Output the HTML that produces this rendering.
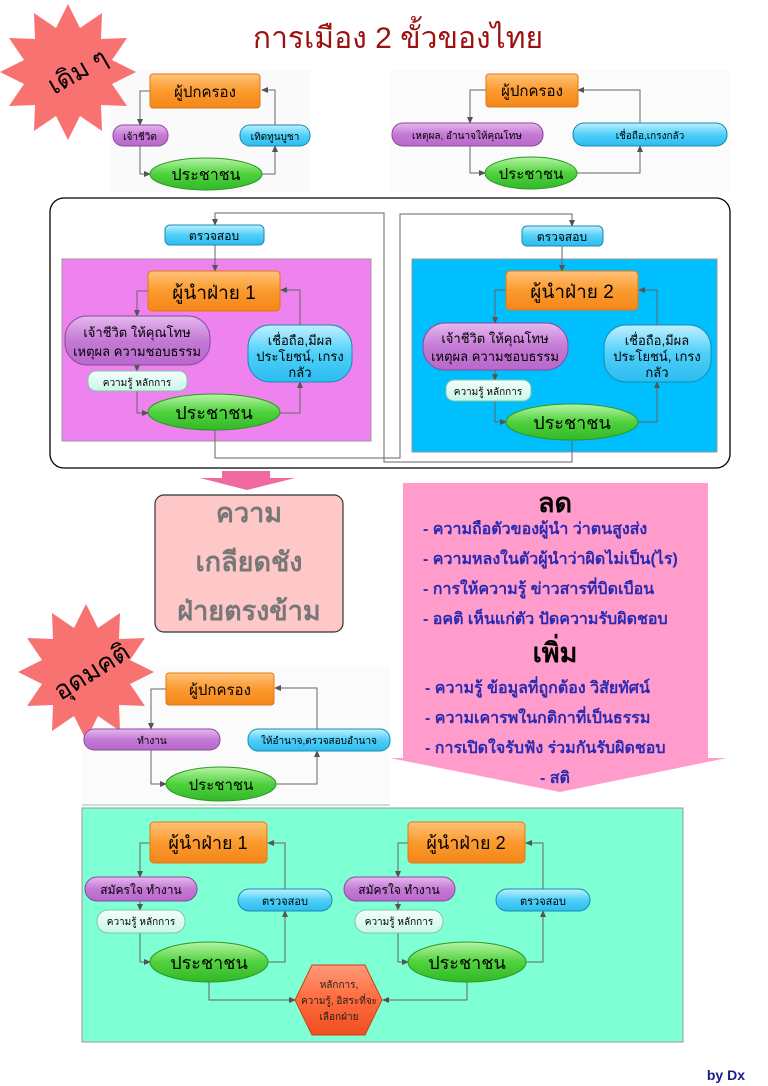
<!DOCTYPE html>
<html><head><meta charset="utf-8"><style>
html,body{margin:0;padding:0;background:#fff;}
svg{display:block}
text{font-family:"Liberation Sans","DejaVu Sans",sans-serif;}
</style></head><body>
<svg width="768" height="1086" viewBox="0 0 768 1086" xmlns="http://www.w3.org/2000/svg">
<defs>
<linearGradient id="or" x1="0" y1="0" x2="0" y2="1"><stop offset="0" stop-color="#ffc27a"/><stop offset="0.5" stop-color="#fb9a2e"/><stop offset="1" stop-color="#f4861a"/></linearGradient>
<linearGradient id="pu" x1="0" y1="0" x2="0" y2="1"><stop offset="0" stop-color="#e6b8ef"/><stop offset="0.5" stop-color="#c47ad4"/><stop offset="1" stop-color="#b868cc"/></linearGradient>
<linearGradient id="bl" x1="0" y1="0" x2="0" y2="1"><stop offset="0" stop-color="#bff0ff"/><stop offset="0.5" stop-color="#4fcff8"/><stop offset="1" stop-color="#2bbcf0"/></linearGradient>
<linearGradient id="gr" x1="0" y1="0" x2="0" y2="1"><stop offset="0" stop-color="#b8f4a8"/><stop offset="0.5" stop-color="#4fd23c"/><stop offset="1" stop-color="#33b82a"/></linearGradient>
<linearGradient id="mi" x1="0" y1="0" x2="0" y2="1"><stop offset="0" stop-color="#f4fffb"/><stop offset="1" stop-color="#c9f6e8"/></linearGradient>
<linearGradient id="rd" x1="0" y1="0" x2="0" y2="1"><stop offset="0" stop-color="#ff9a7a"/><stop offset="0.5" stop-color="#ff6a3c"/><stop offset="1" stop-color="#ef4e20"/></linearGradient>
<marker id="ar" markerWidth="8" markerHeight="8" refX="6" refY="4" orient="auto" markerUnits="userSpaceOnUse"><path d="M0,1 L7,4 L0,7 z" fill="#555"/></marker>
<polygon id="star" points="136,72 112,84 127,106 101,105 102,131 80,116 68,140 56,116 34,131 35,105 9,106 24,84 0,72 24,60 9,38 35,39 34,13 56,28 68,4 80,28 102,13 101,39 127,38 112,60"/>
</defs>

<text x="398" y="48" font-size="30" fill="#9b1010" text-anchor="middle">การเมือง 2 ขั้วของไทย</text>

<!-- top-left diagram -->
<rect x="110" y="70" width="200" height="122" fill="#fafafa"/>
<use href="#star" fill="#f87272"/>
<text x="78" y="80" font-size="26" fill="#000" text-anchor="middle" transform="rotate(-30 78 72)">เดิม ๆ</text>
<g fill="none" stroke="#666" stroke-width="1">
<polyline points="150,91 140,91 140,125" marker-end="url(#ar)"/>
<polyline points="140,146 140,174 150,174" marker-end="url(#ar)"/>
<polyline points="262,174 275,174 275,146" marker-end="url(#ar)"/>
<polyline points="275,125 275,90 262,90" marker-end="url(#ar)"/>
</g>
<rect x="150" y="74" width="110" height="34" rx="3" fill="url(#or)" stroke="#e07810"/>
<text x="205" y="97" font-size="15" text-anchor="middle">ผู้ปกครอง</text>
<rect x="113" y="125" width="55" height="21" rx="10" fill="url(#pu)" stroke="#8a4a9a"/>
<text x="140" y="140" font-size="10" text-anchor="middle">เจ้าชีวิต</text>
<rect x="240" y="125" width="70" height="21" rx="10" fill="url(#bl)" stroke="#1a8ab0"/>
<text x="275" y="140" font-size="10" text-anchor="middle">เทิดทูนบูชา</text>
<ellipse cx="206" cy="174" rx="56" ry="16" fill="url(#gr)" stroke="#2a9a20"/>
<text x="206" y="180" font-size="16" text-anchor="middle">ประชาชน</text>

<!-- top-right diagram -->
<rect x="390" y="70" width="340" height="122" fill="#fbfbfb"/>
<g fill="none" stroke="#666" stroke-width="1">
<polyline points="486,90 470,90 470,123" marker-end="url(#ar)"/>
<polyline points="470,146 470,173 485,173" marker-end="url(#ar)"/>
<polyline points="577,173 640,173 640,146" marker-end="url(#ar)"/>
<polyline points="640,123 640,90 578,90" marker-end="url(#ar)"/>
</g>
<rect x="486" y="74" width="92" height="33" rx="3" fill="url(#or)" stroke="#e07810"/>
<text x="532" y="96" font-size="15" text-anchor="middle">ผู้ปกครอง</text>
<rect x="392" y="123" width="151" height="23" rx="11" fill="url(#pu)" stroke="#8a4a9a"/>
<text x="467" y="139" font-size="10" text-anchor="middle">เหตุผล, อำนาจให้คุณโทษ</text>
<rect x="573" y="123" width="154" height="23" rx="11" fill="url(#bl)" stroke="#1a8ab0"/>
<text x="650" y="139" font-size="10" text-anchor="middle">เชื่อถือ,เกรงกลัว</text>
<ellipse cx="531" cy="173" rx="46" ry="16" fill="url(#gr)" stroke="#2a9a20"/>
<text x="531" y="179" font-size="15" text-anchor="middle">ประชาชน</text>

<!-- middle framed box -->
<rect x="50" y="198" width="680" height="270" rx="14" fill="#fff" stroke="#000" stroke-width="1.3"/>
<rect x="62" y="259" width="309" height="182" fill="#ee82ee" stroke="#999"/>
<rect x="412" y="259" width="305" height="193" fill="#00bfff" stroke="#999"/>
<g fill="none" stroke="#666" stroke-width="1">
<polyline points="215,430 215,458 400,458 400,214 572,214 572,226" marker-end="url(#ar)"/>
<polyline points="572,441 572,462 384,462 384,213 215,213 215,225" marker-end="url(#ar)"/>
<line x1="215" y1="245" x2="215" y2="271" marker-end="url(#ar)"/>
<line x1="562" y1="246" x2="562" y2="271" marker-end="url(#ar)"/>
<polyline points="148,291 137,291 137,316" marker-end="url(#ar)"/>
<line x1="137" y1="365" x2="137" y2="371" marker-end="url(#ar)"/>
<polyline points="137,391 137,413 148,413" marker-end="url(#ar)"/>
<polyline points="280,413 300,413 300,382" marker-end="url(#ar)"/>
<polyline points="300,325 300,290 281,290" marker-end="url(#ar)"/>
<polyline points="506,290 495,290 495,323" marker-end="url(#ar)"/>
<line x1="495" y1="370" x2="495" y2="380" marker-end="url(#ar)"/>
<polyline points="495,401 495,422 506,422" marker-end="url(#ar)"/>
<polyline points="638,422 657,422 657,382" marker-end="url(#ar)"/>
<polyline points="657,325 657,290 639,290" marker-end="url(#ar)"/>
</g>
<rect x="165" y="225" width="99" height="20" rx="5" fill="url(#bl)" stroke="#1a8ab0"/>
<text x="214" y="240" font-size="12" text-anchor="middle">ตรวจสอบ</text>
<rect x="522" y="226" width="81" height="20" rx="5" fill="url(#bl)" stroke="#1a8ab0"/>
<text x="562" y="241" font-size="12" text-anchor="middle">ตรวจสอบ</text>

<rect x="148" y="271" width="132" height="40" rx="4" fill="url(#or)" stroke="#e07810"/>
<text x="214" y="299" font-size="19" text-anchor="middle">ผู้นำฝ่าย 1</text>
<rect x="65" y="316" width="145" height="49" rx="22" fill="url(#pu)" stroke="#8a4a9a"/>
<text x="137" y="337" font-size="13" text-anchor="middle">เจ้าชีวิต ให้คุณโทษ</text>
<text x="137" y="356" font-size="13" text-anchor="middle">เหตุผล ความชอบธรรม</text>
<rect x="88" y="371" width="99" height="20" rx="8" fill="url(#mi)" stroke="#7ac8a8"/>
<text x="137" y="386" font-size="10" text-anchor="middle">ความรู้ หลักการ</text>
<ellipse cx="214" cy="412" rx="66" ry="18" fill="url(#gr)" stroke="#2a9a20"/>
<text x="214" y="419" font-size="18" text-anchor="middle">ประชาชน</text>
<rect x="248" y="325" width="104" height="57" rx="22" fill="url(#bl)" stroke="#1a8ab0"/>
<text x="300" y="345" font-size="13" text-anchor="middle">เชื่อถือ,มีผล</text>
<text x="300" y="361" font-size="13" text-anchor="middle">ประโยชน์, เกรง</text>
<text x="300" y="377" font-size="13" text-anchor="middle">กลัว</text>

<rect x="506" y="271" width="132" height="39" rx="4" fill="url(#or)" stroke="#e07810"/>
<text x="572" y="298" font-size="19" text-anchor="middle">ผู้นำฝ่าย 2</text>
<rect x="423" y="323" width="145" height="47" rx="22" fill="url(#pu)" stroke="#8a4a9a"/>
<text x="495" y="343" font-size="13" text-anchor="middle">เจ้าชีวิต ให้คุณโทษ</text>
<text x="495" y="361" font-size="13" text-anchor="middle">เหตุผล ความชอบธรรม</text>
<rect x="446" y="380" width="85" height="21" rx="8" fill="url(#mi)" stroke="#7ac8a8"/>
<text x="488" y="395" font-size="10" text-anchor="middle">ความรู้ หลักการ</text>
<ellipse cx="572" cy="422" rx="66" ry="18" fill="url(#gr)" stroke="#2a9a20"/>
<text x="572" y="429" font-size="18" text-anchor="middle">ประชาชน</text>
<rect x="604" y="325" width="107" height="57" rx="22" fill="url(#bl)" stroke="#1a8ab0"/>
<text x="657" y="345" font-size="13" text-anchor="middle">เชื่อถือ,มีผล</text>
<text x="657" y="361" font-size="13" text-anchor="middle">ประโยชน์, เกรง</text>
<text x="657" y="377" font-size="13" text-anchor="middle">กลัว</text>

<polygon points="222,471 270,471 270,478 295,478 247,490 200,478 222,478" fill="#f06aa0"/>
<rect x="155" y="495" width="188" height="137" rx="9" fill="#ffc8c8" stroke="#333" stroke-width="1.2"/>
<g font-size="27" font-weight="bold" fill="#777" text-anchor="middle">
<text x="249" y="522">ความ</text>
<text x="249" y="571">เกลียดชัง</text>
<text x="249" y="620">ฝ่ายตรงข้าม</text>
</g>

<polygon points="403,483 708,483 708,758 727,758 560,792 390,758 403,758" fill="#ff9ccb"/>
<text x="555" y="512" font-size="27" font-weight="bold" text-anchor="middle">ลด</text>
<g font-size="16" font-weight="bold" fill="#2a2ab0">
<text x="423" y="534">- ความถือตัวของผู้นำ ว่าตนสูงส่ง</text>
<text x="423" y="564">- ความหลงในตัวผู้นำว่าผิดไม่เป็น(ไร)</text>
<text x="423" y="594">- การให้ความรู้ ข่าวสารที่บิดเบือน</text>
<text x="423" y="624">- อคติ เห็นแก่ตัว ปัดความรับผิดชอบ</text>
</g>
<text x="555" y="662" font-size="27" font-weight="bold" text-anchor="middle">เพิ่ม</text>
<g font-size="16" font-weight="bold" fill="#2a2ab0">
<text x="425" y="693">- ความรู้ ข้อมูลที่ถูกต้อง วิสัยทัศน์</text>
<text x="425" y="723">- ความเคารพในกติกาที่เป็นธรรม</text>
<text x="425" y="753">- การเปิดใจรับฟัง ร่วมกันรับผิดชอบ</text>
<text x="540" y="783">- สติ</text>
</g>

<!-- ideal diagram -->
<rect x="82" y="667" width="308" height="138" fill="#fbfbfb"/>
<line x1="82" y1="805" x2="390" y2="805" stroke="#8cc8a8"/>
<use href="#star" fill="#f87272" transform="translate(18,600)"/>
<text x="92" y="680" font-size="26" fill="#000" text-anchor="middle" transform="rotate(-32 92 672)">อุดมคติ</text>
<g fill="none" stroke="#666" stroke-width="1">
<polyline points="166,689 151,689 151,729" marker-end="url(#ar)"/>
<polyline points="151,750 151,784 166,784" marker-end="url(#ar)"/>
<polyline points="276,784 317,784 317,751" marker-end="url(#ar)"/>
<polyline points="317,729 317,688 275,688" marker-end="url(#ar)"/>
</g>
<rect x="166" y="673" width="108" height="32" rx="3" fill="url(#or)" stroke="#e07810"/>
<text x="220" y="695" font-size="15" text-anchor="middle">ผู้ปกครอง</text>
<rect x="84" y="729" width="136" height="21" rx="10" fill="url(#pu)" stroke="#8a4a9a"/>
<text x="152" y="744" font-size="10" text-anchor="middle">ทำงาน</text>
<rect x="248" y="729" width="142" height="22" rx="10" fill="url(#bl)" stroke="#1a8ab0"/>
<text x="319" y="744" font-size="10" text-anchor="middle">ให้อำนาจ,ตรวจสอบอำนาจ</text>
<ellipse cx="221" cy="784" rx="55" ry="17" fill="url(#gr)" stroke="#2a9a20"/>
<text x="221" y="790" font-size="15" text-anchor="middle">ประชาชน</text>

<!-- bottom teal panel -->
<rect x="82" y="808" width="601" height="234" fill="#7fffd4" stroke="#999"/>
<g fill="none" stroke="#666" stroke-width="1">
<polyline points="150,843 140,843 140,877" marker-end="url(#ar)"/>
<line x1="140" y1="901" x2="140" y2="910" marker-end="url(#ar)"/>
<polyline points="140,933 140,962 150,962" marker-end="url(#ar)"/>
<polyline points="268,962 285,962 285,911" marker-end="url(#ar)"/>
<polyline points="285,889 285,843 268,843" marker-end="url(#ar)"/>
<polyline points="408,843 398,843 398,877" marker-end="url(#ar)"/>
<line x1="398" y1="901" x2="398" y2="910" marker-end="url(#ar)"/>
<polyline points="398,933 398,962 408,962" marker-end="url(#ar)"/>
<polyline points="526,962 543,962 543,911" marker-end="url(#ar)"/>
<polyline points="543,889 543,843 526,843" marker-end="url(#ar)"/>
<polyline points="209,982 209,1000 295,1000" marker-end="url(#ar)"/>
<polyline points="467,982 467,1000 383,1000" marker-end="url(#ar)"/>
</g>
<rect x="150" y="822" width="117" height="41" rx="4" fill="url(#or)" stroke="#e07810"/>
<text x="208" y="849" font-size="18" text-anchor="middle">ผู้นำฝ่าย 1</text>
<rect x="85" y="877" width="112" height="24" rx="12" fill="url(#pu)" stroke="#8a4a9a"/>
<text x="141" y="894" font-size="12" text-anchor="middle">สมัครใจ ทำงาน</text>
<rect x="238" y="889" width="94" height="22" rx="11" fill="url(#bl)" stroke="#1a8ab0"/>
<text x="285" y="905" font-size="11" text-anchor="middle">ตรวจสอบ</text>
<rect x="97" y="910" width="88" height="23" rx="11" fill="url(#mi)" stroke="#7ac8a8"/>
<text x="141" y="925" font-size="10" text-anchor="middle">ความรู้ หลักการ</text>
<ellipse cx="209" cy="962" rx="59" ry="20" fill="url(#gr)" stroke="#2a9a20"/>
<text x="209" y="969" font-size="18" text-anchor="middle">ประชาชน</text>

<rect x="408" y="822" width="117" height="41" rx="4" fill="url(#or)" stroke="#e07810"/>
<text x="466" y="849" font-size="18" text-anchor="middle">ผู้นำฝ่าย 2</text>
<rect x="344" y="877" width="111" height="24" rx="12" fill="url(#pu)" stroke="#8a4a9a"/>
<text x="399" y="894" font-size="12" text-anchor="middle">สมัครใจ ทำงาน</text>
<rect x="496" y="889" width="94" height="22" rx="11" fill="url(#bl)" stroke="#1a8ab0"/>
<text x="543" y="905" font-size="11" text-anchor="middle">ตรวจสอบ</text>
<rect x="355" y="910" width="88" height="23" rx="11" fill="url(#mi)" stroke="#7ac8a8"/>
<text x="399" y="925" font-size="10" text-anchor="middle">ความรู้ หลักการ</text>
<ellipse cx="467" cy="962" rx="59" ry="20" fill="url(#gr)" stroke="#2a9a20"/>
<text x="467" y="969" font-size="18" text-anchor="middle">ประชาชน</text>

<polygon points="312,965 365,965 382,1000 365,1035 312,1035 295,1000" fill="url(#rd)" stroke="#d04010"/>
<g font-size="10" text-anchor="middle" fill="#222">
<text x="339" y="988">หลักการ,</text>
<text x="339" y="1004">ความรู้, อิสระที่จะ</text>
<text x="339" y="1020">เลือกฝ่าย</text>
</g>

<text x="745" y="1080" font-size="14" font-weight="bold" fill="#1a1a8a" text-anchor="end" font-family="Liberation Serif, serif">by Dx</text>
</svg>
</body></html>
